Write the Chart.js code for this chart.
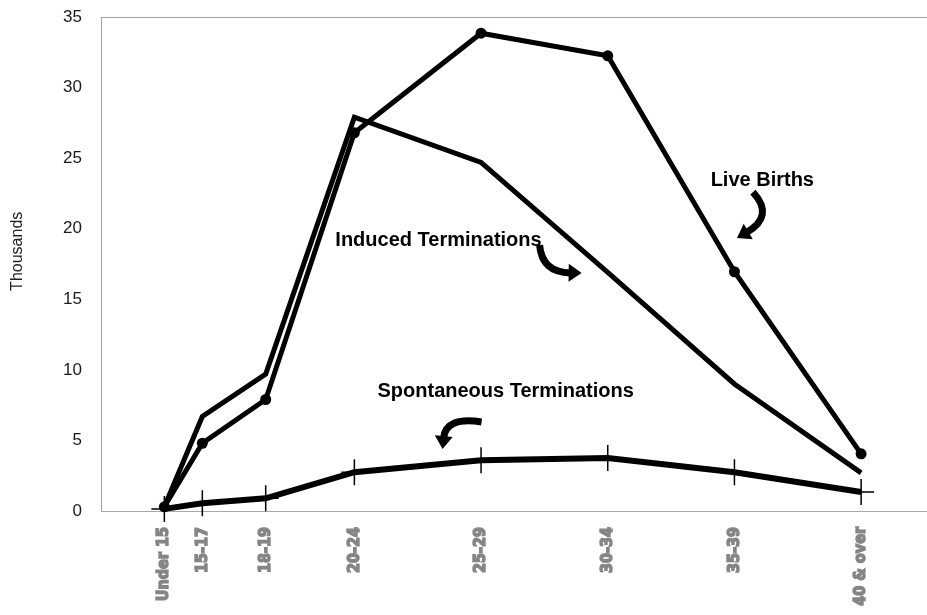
<!DOCTYPE html>
<html>
<head>
<meta charset="utf-8">
<script src="https://cdn.jsdelivr.net/npm/chart.js@4.4.1/dist/chart.umd.min.js"></script>
<style>
  html, body { margin: 0; padding: 0; background: #fff; }
  #wrap { width: 927px; height: 615px; position: relative; }
</style>
</head>
<body>
<div id="wrap"><canvas id="myChart01"></canvas></div>
<script>
// age groups and the age each group sits at on the x axis
var ageGroups = ['Under 15', '15-17', '18-19', '20-24', '25-29', '30-34', '35-39', '40 & over'];
var ageMidpoints = [14.5, 16, 18.5, 22, 27, 32, 37, 42];

// thousands
var liveBirths = [0.3, 4.8, 7.9, 26.8, 33.85, 32.25, 16.95, 4.05];
var inducedTerminations = [0.3, 6.7, 9.7, 27.9, 24.7, 16.9, 9.0, 2.7];
var spontaneousTerminations = [0.15, 0.55, 0.9, 2.75, 3.6, 3.75, 2.75, 1.35];

var yTicks = [0, 5, 10, 15, 20, 25, 30, 35];

function toPoints(values) {
    return values.map(function (v, i) { return { x: ageMidpoints[i], y: v }; });
}

// text labels and curved arrows, placed in data units
var notes = [
    { text: 'Live Births', x: 38.1, y: 23.45 },
    { text: 'Induced Terminations', x: 25.32, y: 19.2 },
    { text: 'Spontaneous Terminations', x: 27.97, y: 8.5 }
];
var arrows = [
    { from: [37.73, 22.6], ctrl: [38.6, 20.9], to: [37.1, 19.34] },
    { from: [29.31, 18.85], ctrl: [29.4, 16.9], to: [30.97, 16.86] },
    { from: [27.02, 6.31], ctrl: [25.6, 6.7], to: [25.48, 4.39] }
];

var decorPlugin = {
    id: 'decor',
    afterDraw: function (chart) {
        var ctx = chart.ctx, xs = chart.scales.x, ys = chart.scales.y, area = chart.chartArea;
        ctx.save();
        // top frame line
        ctx.strokeStyle = '#a0a0a0';
        ctx.lineWidth = 1;
        ctx.beginPath();
        ctx.moveTo(area.left, Math.round(area.top) + 0.5);
        ctx.lineTo(area.right, Math.round(area.top) + 0.5);
        ctx.stroke();

        // y title
        ctx.fillStyle = '#222';
        ctx.font = '16px "Liberation Sans", Arial, sans-serif';
        ctx.textAlign = 'center';
        ctx.textBaseline = 'middle';
        ctx.translate(18, ys.getPixelForValue(18.4));
        ctx.rotate(-Math.PI / 2);
        ctx.fillText('Thousands', 0, 0);
        ctx.restore();

        ctx.save();
        ctx.fillStyle = '#000';
        ctx.font = 'bold 20px "Liberation Sans", Arial, sans-serif';
        ctx.textAlign = 'center';
        ctx.textBaseline = 'middle';
        notes.forEach(function (n) {
            ctx.fillText(n.text, xs.getPixelForValue(n.x), ys.getPixelForValue(n.y));
        });

        arrows.forEach(function (a) {
            var sx = xs.getPixelForValue(a.from[0]), sy = ys.getPixelForValue(a.from[1]);
            var cx = xs.getPixelForValue(a.ctrl[0]), cy = ys.getPixelForValue(a.ctrl[1]);
            var tx = xs.getPixelForValue(a.to[0]), ty = ys.getPixelForValue(a.to[1]);
            var dx = tx - cx, dy = ty - cy, len = Math.sqrt(dx * dx + dy * dy);
            dx /= len; dy /= len;
            var headLen = 13, headW = 9;
            var bx = tx - dx * headLen, by = ty - dy * headLen;
            ctx.strokeStyle = '#000';
            ctx.lineWidth = 7;
            ctx.lineCap = 'butt';
            ctx.beginPath();
            ctx.moveTo(sx, sy);
            ctx.quadraticCurveTo(cx, cy, bx + dx * 2, by + dy * 2);
            ctx.stroke();
            ctx.beginPath();
            ctx.moveTo(tx, ty);
            ctx.lineTo(bx - dy * headW, by + dx * headW);
            ctx.lineTo(bx + dy * headW, by - dx * headW);
            ctx.closePath();
            ctx.fill();
        });
        ctx.restore();
    }
};

var ctx01 = document.getElementById('myChart01');
var chart01 = new Chart(ctx01, {
    type: 'line',
    data: {
        datasets: [{
            label: 'Live Births',
            data: toPoints(liveBirths),
            borderColor: '#000',
            backgroundColor: '#000',
            borderWidth: 5,
            pointRadius: 5.5,
            pointBorderWidth: 0,
            pointBackgroundColor: '#000',
            tension: 0,
            clip: false
        }, {
            label: 'Induced Terminations',
            data: toPoints(inducedTerminations),
            borderColor: '#000',
            borderWidth: 5,
            pointRadius: 0,
            tension: 0,
            clip: false
        }, {
            label: 'Spontaneous Terminations',
            data: toPoints(spontaneousTerminations),
            borderColor: '#000',
            backgroundColor: '#000',
            borderWidth: 6,
            pointStyle: 'cross',
            pointRadius: 13,
            pointBorderWidth: 1.5,
            pointBorderColor: '#000',
            tension: 0,
            clip: false
        }]
    },
    options: {
        responsive: true,
        maintainAspectRatio: false,
        animation: false,
        layout: { autoPadding: false, padding: { top: 17, right: 0, left: 0, bottom: 0 } },
        plugins: {
            legend: { display: false },
            tooltip: { enabled: false }
        },
        scales: {
            x: {
                type: 'linear',
                min: 12,
                max: 44.6,
                afterFit: function (scale) {
                    scale.height = 104;
                    scale.paddingLeft = 0;
                    scale.paddingRight = 0;
                },
                afterBuildTicks: function (scale) {
                    scale.ticks = ageMidpoints.map(function (v) { return { value: v }; });
                },
                grid: { display: false, drawTicks: false },
                border: { color: '#a8a8a8', width: 1 },
                ticks: {
                    autoSkip: false,
                    minRotation: 90,
                    maxRotation: 90,
                    padding: 16,
                    color: '#858585',
                    textStrokeColor: '#858585',
                    textStrokeWidth: 1.4,
                    font: { family: '"DejaVu Sans Condensed", "DejaVu Sans", sans-serif', size: 16, weight: 'bold' },
                    callback: function (value) {
                        var i = ageMidpoints.indexOf(value);
                        return i >= 0 ? ageGroups[i] : '';
                    }
                }
            },
            y: {
                min: 0,
                max: 35,
                afterFit: function (scale) {
                    scale.width = 101;
                    scale.paddingTop = 0;
                    scale.paddingBottom = 0;
                },
                afterBuildTicks: function (scale) {
                    scale.ticks = yTicks.map(function (v) { return { value: v }; });
                },
                grid: { display: false, drawTicks: false },
                border: { color: '#a0a0a0', width: 1 },
                ticks: {
                    padding: 19,
                    color: '#1a1a1a',
                    font: { family: '"Liberation Sans", Arial, sans-serif', size: 17 }
                }
            }
        }
    },
    plugins: [decorPlugin]
});
</script>
</body>
</html>
